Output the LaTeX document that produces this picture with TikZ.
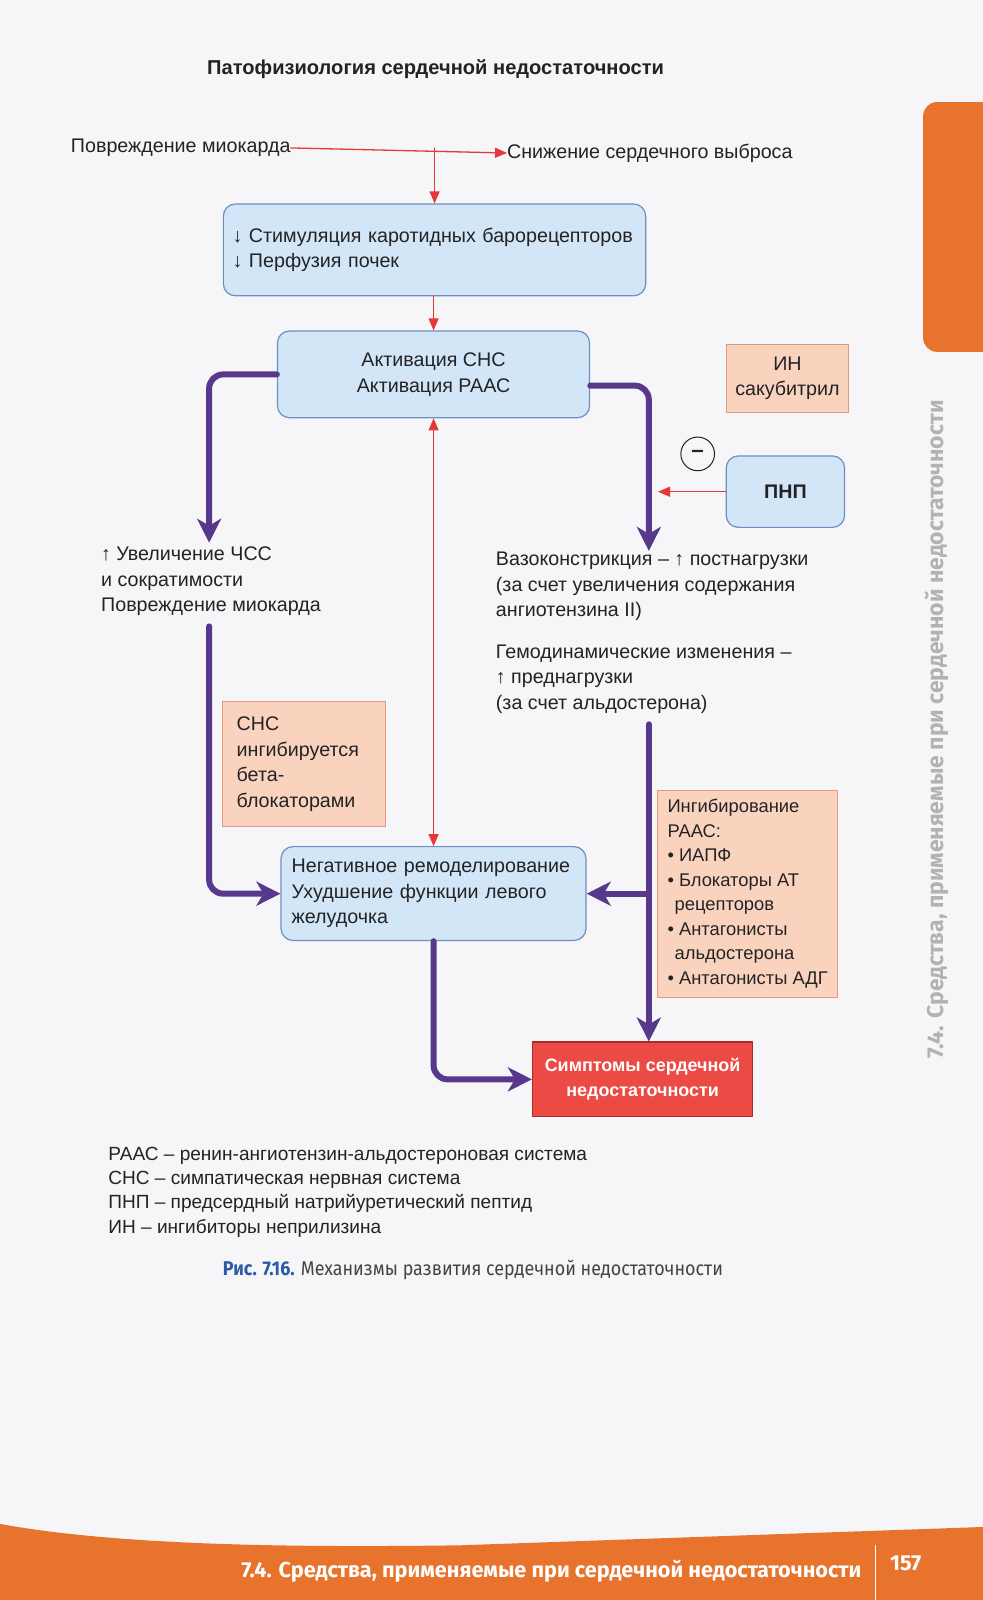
\documentclass[tikz,border=0pt]{standalone}
\usepackage{fontspec}
\setmainfont{Liberation Sans}
\newfontfamily\capfont[FakeStretch=0.9]{Fira Sans}
\newfontfamily\tabfont{Fira Sans}
\usetikzlibrary{arrows.meta,positioning}
\definecolor{ink}{HTML}{232326}
\definecolor{paper}{HTML}{F6F6F8}
\definecolor{pathclr}{HTML}{58388C}
\definecolor{arrred}{HTML}{E5383B}
\definecolor{boxfill}{HTML}{D3E6F7}
\definecolor{boxline}{HTML}{6C8FC4}
\definecolor{drugfill}{HTML}{FAD3BF}
\definecolor{drugline}{HTML}{E39A78}
\definecolor{symfill}{HTML}{EC4A45}
\definecolor{symline}{HTML}{A82A2A}
\definecolor{tab}{HTML}{E8732C}
\definecolor{capblue}{HTML}{2B5AA8}
\begin{document}
\begin{tikzpicture}[x=1pt, y=-1pt, scale=1.02, every node/.append style={transform shape},
	line join=round, line cap=round,
	txt/.style={font=\fontsize{19.3}{25}\selectfont, text=ink, inner sep=0pt},
	bluebox/.style={txt, draw=boxline, fill=boxfill, line width=1.2pt, rounded corners=12pt},
	drugbox/.style={txt, draw=drugline, fill=drugfill, line width=1pt},
	redarrow/.style={draw=arrred, line width=1.3pt, -{Triangle[length=12pt,width=10pt]}},
	pathway/.style={draw=pathclr, line width=6pt, rounded corners=14pt, -{Stealth[length=24pt,width=24pt,inset=7pt]}}]
	\useasboundingbox (0,0) rectangle (963.7,1568.6);
	\fill[paper] (0,0) rectangle (963.7,1568.6);
	% page decoration
	\fill[tab, rounded corners=14pt] (905,100) rectangle (990,345);
	\node[rotate=90, font=\tabfont\fontsize{22.5}{26}\selectfont\bfseries, text=gray!60] (side) at (918,715) {7.4. Средства, применяемые при сердечной недостаточности};
	\fill[tab] (0,1494) .. controls (120,1516) and (300,1517) .. (450,1515) -- (963.7,1497) -- (963.7,1568.6) -- (0,1568.6) -- cycle;
	\node[anchor=base west, font=\tabfont\fontsize{21.2}{24}\selectfont\bfseries, text=white] (foot) at (233,1547) {7.4. Средства, применяемые при сердечной недостаточности};
	\draw[white, line width=1pt] (858,1515) -- (858,1568.6);
	\node[anchor=base west, font=\tabfont\fontsize{21.2}{24}\selectfont\bfseries, text=white] (page) at (869,1540) {157};
	% diagram
	\node[txt, font=\fontsize{19.7}{25}\selectfont\bfseries] (title) at (427,68) {Патофизиология сердечной недостаточности};
	\node[txt, anchor=east] (dmg) at (285,145) {Повреждение миокарда};
	\node[txt, anchor=west] (out) at (497,150) {Снижение сердечного выброса};
	\node[bluebox, minimum width=414pt, minimum height=90pt, text width=396pt, align=left] (baro) at (426,245) {↓ Стимуляция каротидных барорецепторов\\↓ Перфузия почек};
	\node[bluebox, minimum width=306pt, minimum height=85pt, align=center] (act) at (425,367) {Активация СНС\\Активация РААС};
	\node[drugbox, minimum width=120pt, minimum height=67pt, align=center] (nepi) at (772,371) {ИН\\сакубитрил};
	\node[draw=ink, circle, line width=1pt, minimum size=33pt, txt, font=\fontsize{22}{25}\selectfont\bfseries] (minus) at (684,445) {–};
	\node[bluebox, minimum width=116pt, minimum height=70pt, font=\fontsize{19.3}{25}\selectfont\bfseries] (anp) at (770,482) {ПНП};
	\node[txt, anchor=north west, align=left] (hr) at (99,536) {↑ Увеличение ЧСС\\и сократимости\\Повреждение миокарда};
	\node[txt, anchor=north west, align=left] (vaso) at (486,541) {Вазоконстрикция – ↑ постнагрузки\\(за счет увеличения содержания\\ангиотензина II)};
	\node[txt, anchor=north west, align=left] (hemo) at (486,632) {Гемодинамические изменения –\\↑ преднагрузки\\(за счет альдостерона)};
	\node[drugbox, minimum width=160pt, minimum height=122pt, text width=132pt, align=left] (beta) at (298,749) {СНС\\ингибируется\\бета-\\блокаторами};
	\node[bluebox, minimum width=299pt, minimum height=92pt, text width=278pt, align=left] (remod) at (425,876) {Негативное ремоделирование\\Ухудшение функции левого\\желудочка};
	\node[drugbox, minimum width=177pt, minimum height=203pt, align=left, font=\fontsize{18}{24}\selectfont] (raas) at (733,876) {Ингибирование\\РААС:\\• ИАПФ\\• Блокаторы АТ\\\hspace*{7pt}рецепторов\\• Антагонисты\\\hspace*{7pt}альдостерона\\• Антагонисты АДГ};
	\node[draw=symline, fill=symfill, line width=1.2pt, minimum width=216pt, minimum height=73pt, align=center, text=white, font=\fontsize{17.6}{24}\selectfont\bfseries] (sym) at (630,1058) {Симптомы сердечной\\недостаточности};
	\coordinate (hrtop) at (205,532);
	\coordinate (hrbot) at (205,614);
	\coordinate (vasotop) at (636,540);
	\coordinate (hemobot) at (636,710);
	\coordinate (anpin) at (645,478);
	% connectors
	\draw[redarrow] (dmg.east) -- (out.west);
	\draw[redarrow] (baro.north |- dmg.east) -- (baro.north);
	\draw[redarrow] (baro.south -| act.north) -- (act.north);
	\draw[redarrow, {Triangle[length=12pt,width=10pt]}-{Triangle[length=12pt,width=10pt]}] (act.south) -- (remod.north);
	\draw[redarrow] (anp.west) -- (anp.west -| anpin);
	\draw[pathway] (act.west) -| (hrtop);
	\draw[pathway] ([yshift=-11pt]act.east) -| (vasotop);
	\draw[pathway] (hrbot) |- (remod.west);
	\draw[pathway] (hemobot) -- (hemobot |- sym.north);
	\draw[pathway, rounded corners=0pt] (hemobot |- remod.east) -- (remod.east);
	\draw[pathway] (remod.south) |- (sym.west);
	% legend and caption
	\node[txt, anchor=north west, align=left, font=\fontsize{18.7}{24}\selectfont] (legend) at (106,1124) {РААС – ренин-ангиотензин-альдостероновая система\\СНС – симпатическая нервная система\\ПНП – предсердный натрийуретический пептид\\ИН – ингибиторы неприлизина};
	\node[anchor=base west, font=\capfont\fontsize{19.5}{22}\selectfont, text=ink!85] (caption) at (215,1250) {\textbf{\color{capblue}Рис. 7.16.} Механизмы развития сердечной недостаточности};
\end{tikzpicture}
\end{document}
